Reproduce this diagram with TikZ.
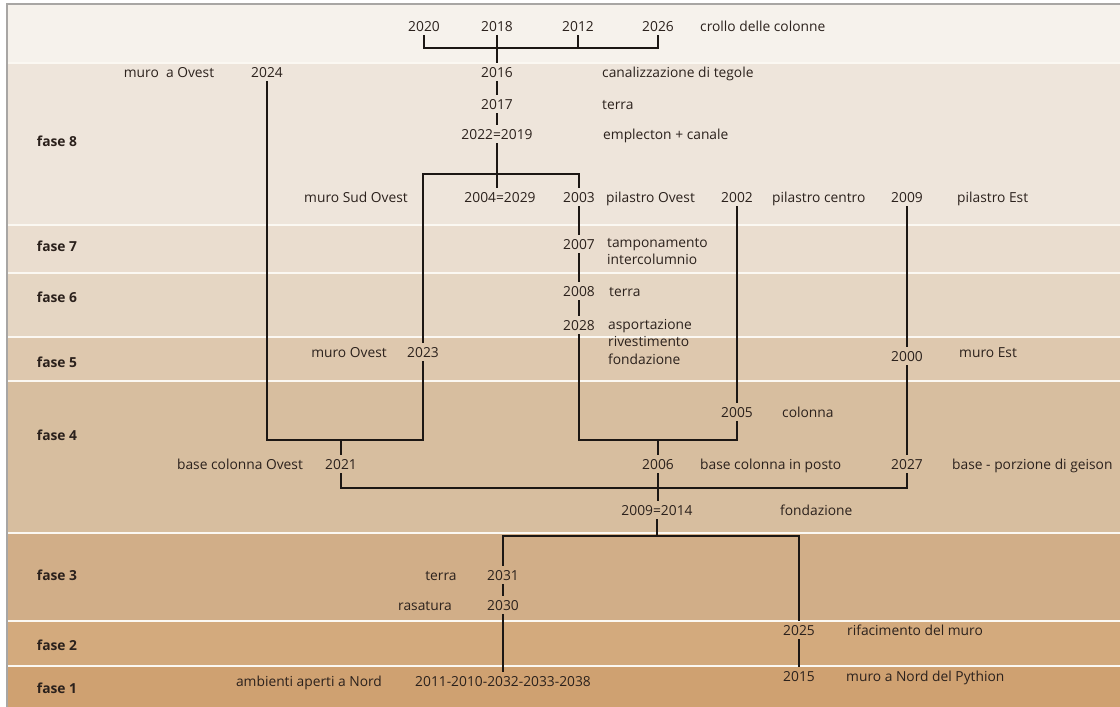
\documentclass[tikz,border=0pt]{standalone}
\usepackage{fontspec}
\setmainfont{Open Sans}
\newcommand\dfont{\fontsize{13.8}{17.5}\selectfont}
\definecolor{btop}{HTML}{F6F2EC}
\definecolor{bf8}{HTML}{EEE5DB}
\definecolor{bf7}{HTML}{EADDCF}
\definecolor{bf6}{HTML}{E5D6C3}
\definecolor{bf5}{HTML}{DEC8AE}
\definecolor{bf4}{HTML}{D7BE9F}
\definecolor{bf3}{HTML}{D1AE88}
\definecolor{bf2}{HTML}{D3AA7D}
\definecolor{bf1}{HTML}{CFA171}
\definecolor{txt}{HTML}{2B211C}
\definecolor{ln}{HTML}{1C1714}
\definecolor{sep}{HTML}{FBF8F2}
\definecolor{frame}{HTML}{A8A6A4}
\begin{document}
\begin{tikzpicture}[x=1pt,y=-1pt,
  yr/.style={text height=10pt, text depth=0pt, inner sep=4pt, font=\dfont, text=txt},
  lab/.style={yr, inner xsep=0pt, anchor=west},
  labc/.style={yr, inner xsep=0pt},
  fase/.style={yr, inner xsep=0pt, font=\dfont\bfseries},
  conn/.style={draw=ln, line width=1.8pt}]
\useasboundingbox (0,0) rectangle (1120,707);
% bands
\fill[white] (0,0) rectangle (1120,707);
\fill[btop] (8,5) rectangle (1120,63);
\fill[bf8] (8,63) rectangle (1120,225);
\fill[bf7] (8,225) rectangle (1120,273);
\fill[bf6] (8,273) rectangle (1120,337);
\fill[bf5] (8,337) rectangle (1120,381);
\fill[bf4] (8,381) rectangle (1120,533);
\fill[bf3] (8,533) rectangle (1120,621);
\fill[bf2] (8,621) rectangle (1120,666);
\fill[bf1] (8,666) rectangle (1120,707);
\foreach \yy in {63,225,273,337,381,533,621,666}
  \draw[sep, line width=2pt] (8,\yy) -- (1120,\yy);
\draw[frame, line width=1.5pt] (7,707) -- (7,4) -- (1120,4);
% fase labels
\node[fase] (f8) at (57,141) {fase 8};
\node[fase] (f7) at (57,246) {fase 7};
\node[fase] (f6) at (57,297) {fase 6};
\node[fase] (f5) at (57,362) {fase 5};
\node[fase] (f4) at (57,435) {fase 4};
\node[fase] (f3) at (57,575) {fase 3};
\node[fase] (f2) at (57,645) {fase 2};
\node[fase] (f1) at (57,688) {fase 1};
% top
\node[yr] (y20) at (424,26) {2020};
\node[yr] (y18) at (497,26) {2018};
\node[yr] (y12) at (578,26) {2012};
\node[yr] (y26) at (658,26) {2026};
\node[lab] (tcrollo) at (700,26) {crollo delle colonne};
% fase 8
\node[labc] (tmuroaO) at (169,72) {muro\ \ a Ovest};
\node[yr] (y24) at (267,72) {2024};
\node[yr] (y16) at (497,72) {2016};
\node[lab] (tcanal) at (602,72) {canalizzazione di tegole};
\node[yr] (y17) at (497,104) {2017};
\node[lab] (tterra1) at (602,104) {terra};
\node[yr] (y2219) at (497,134) {2022=2019};
\node[lab] (templ) at (603,134) {emplecton + canale};
\node[labc] (tmuroSO) at (356,197) {muro Sud Ovest};
\node[yr] (y0429) at (500,197) {2004=2029};
\node[yr] (y03) at (579,197) {2003};
\node[lab] (tpilO) at (606,197) {pilastro Ovest};
\node[yr] (y02) at (737,197) {2002};
\node[lab] (tpilC) at (772,197) {pilastro centro};
\node[yr] (y09) at (907,197) {2009};
\node[lab] (tpilE) at (957,197) {pilastro Est};
% fase 7
\node[yr] (y07) at (579,244) {2007};
\node[yr, inner xsep=0pt, anchor=north west, align=left, text height=] (ttamp) at (607,234) {tamponamento\\intercolumnio};
% fase 6
\node[yr] (y08) at (579,291) {2008};
\node[lab] (tterra2) at (609,291) {terra};
\node[yr] (y28) at (579,325) {2028};
\node[yr, inner xsep=0pt, anchor=north west, align=left, text height=] (tasp) at (608,315) {asportazione\\rivestimento\\fondazione};
% fase 5
\node[labc] (tmuroO) at (349,352) {muro Ovest};
\node[yr] (y23) at (423,352) {2023};
\node[yr] (y00) at (907,356) {2000};
\node[lab] (tmuroE) at (959,352) {muro Est};
% fase 4
\node[yr] (y05) at (737,412) {2005};
\node[lab] (tcol) at (782,412) {colonna};
\node[labc] (tbcO) at (240,464) {base colonna Ovest};
\node[yr] (y21) at (341,464) {2021};
\node[yr] (y06) at (658,464) {2006};
\node[lab] (tbcP) at (700,464) {base colonna in posto};
\node[yr] (y27) at (907,464) {2027};
\node[lab] (tbpg) at (952,464) {base - porzione di geison};
\node[yr] (y0914) at (657,510) {2009=2014};
\node[lab] (tfond) at (780,510) {fondazione};
% fase 3
\node[labc] (tterra3) at (441,575) {terra};
\node[yr] (y31) at (503,575) {2031};
\node[labc] (trasa) at (425,605) {rasatura};
\node[yr] (y30) at (503,605) {2030};
% fase 2
\node[yr] (y25) at (799,630) {2025};
\node[lab] (trifa) at (847,630) {rifacimento del muro};
% fase 1
\node[labc] (tamb) at (309,681) {ambienti aperti a Nord};
\node[yr] (ychain) at (503,681) {2011-2010-2032-2033-2038};
\node[yr] (y15) at (799,676) {2015};
\node[lab] (tmuroN) at (846,676) {muro a Nord del Pythion};
% helper coordinates
\coordinate (h48) at (0,48);
\coordinate (h174) at (0,174);
\coordinate (h440) at (0,440);
\coordinate (h488) at (0,488);
\coordinate (h536) at (0,536);
% connectors
\draw[conn] (y20.south) -- (y20.south |- h48) -- (y26.south |- h48) -- (y26.south);
\draw[conn] (y12.south) -- (y12.south |- h48);
\draw[conn] (y18.south) -- (y16.north);
\draw[conn] (y16.south) -- (y17.north);
\draw[conn] (y17.south) -- (y2219.north);
\draw[conn] (y2219.south) -- (y2219.south |- y0429.north);
\draw[conn] (y23.north) -- (y23.north |- h174) -- (y03.north |- h174) -- (y03.north);
\draw[conn] (y24.south) -- (y24.south |- h440) -- (y23.south |- h440) -- (y23.south);
\draw[conn] (y21.north) -- (y21.north |- h440);
\draw[conn] (y03.south) -- (y07.north);
\draw[conn] (y07.south) -- (y08.north);
\draw[conn] (y08.south) -- (y28.north);
\draw[conn] (y28.south) -- (y28.south |- h440) -- (y05.south |- h440) -- (y05.south);
\draw[conn] (y02.south) -- (y05.north);
\draw[conn] (y06.north) -- (y06.north |- h440);
\draw[conn] (y09.south) -- (y00.north);
\draw[conn] (y00.south) -- (y27.north);
\draw[conn] (y21.south) -- (y21.south |- h488) -- (y27.south |- h488) -- (y27.south);
\draw[conn] (y06.south) -- (y06.south |- y0914.north);
\draw[conn] (y0914.south) -- (y0914.south |- h536);
\draw[conn] (y31.north) -- (y31.north |- h536) -- (y25.north |- h536) -- (y25.north);
\draw[conn] (y31.south) -- (y30.north);
\draw[conn] (y30.south) -- (y30.south |- ychain.north);
\draw[conn] (y25.south) -- (y15.north);
\end{tikzpicture}
\end{document}
